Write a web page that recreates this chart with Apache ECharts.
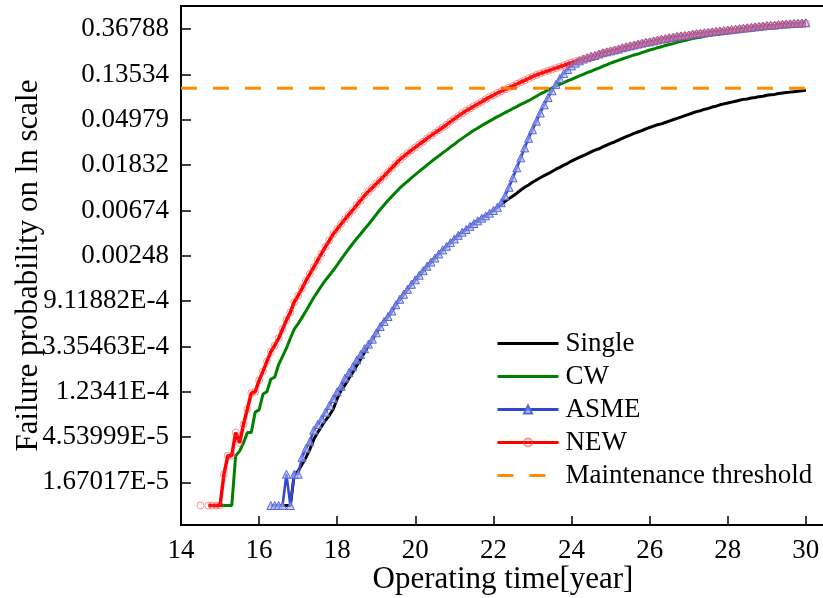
<!DOCTYPE html>
<html>
<head>
<meta charset="utf-8">
<script src="https://cdn.jsdelivr.net/npm/echarts@6/dist/echarts.min.js"></script>
<style>
  html, body { margin: 0; padding: 0; background: #fff; }
  #chart { width: 823px; height: 598px; }
</style>
</head>
<body>
<div id="chart"></div>
<script>
// Failure probability (natural log) vs operating time, sampled every 0.1 year.
// ln(1e-5) = -11.51 is the smallest non-zero probability of the simulation.

const STEP = 0.1;

// NEW method, starting at 14.5 years (null = zero probability, not drawn)
const newStart = 14.5;
const newLn = [
  -11.51, null, -11.51, -11.51, -11.51, -11.51, -10.82, -10.41, -10.41, -9.90,
  -10.13, -9.72, -9.38, -9.03, -9.00, -8.75, -8.55, -8.33, -8.12, -7.98,
  -7.82, -7.62, -7.42, -7.25, -7.02, -6.88, -6.72, -6.55, -6.40, -6.25,
  -6.10, -5.95, -5.80, -5.66, -5.52, -5.41, -5.30, -5.19, -5.09, -4.99,
  -4.88, -4.78, -4.67, -4.58, -4.50, -4.41, -4.33, -4.24, -4.15, -4.06,
  -3.97, -3.88, -3.81, -3.74, -3.67, -3.61, -3.54, -3.48, -3.41, -3.35,
  -3.29, -3.23, -3.17, -3.11, -3.04, -2.98, -2.92, -2.86, -2.80, -2.75,
  -2.70, -2.65, -2.60, -2.55, -2.50, -2.46, -2.41, -2.37, -2.33, -2.29,
  -2.25, -2.21, -2.17, -2.13, -2.09, -2.05, -2.01, -1.98, -1.95, -1.92,
  -1.89, -1.86, -1.83, -1.80, -1.77, -1.74, -1.71, -1.69, -1.66, -1.64,
  -1.61, -1.59, -1.56, -1.53, -1.51, -1.49, -1.47, -1.45, -1.42, -1.40,
  -1.38, -1.36, -1.34, -1.32, -1.30, -1.29, -1.27, -1.25, -1.23, -1.22,
  -1.20, -1.19, -1.17, -1.16, -1.15, -1.14, -1.12, -1.11, -1.10, -1.09,
  -1.08, -1.07, -1.06, -1.05, -1.04, -1.03, -1.02, -1.01, -1.00, -0.99,
  -0.98, -0.97, -0.96, -0.95, -0.94, -0.93, -0.925, -0.92, -0.91, -0.90,
  -0.895, -0.89, -0.885, -0.88, -0.875, -0.87
];

// CW method, starting at 15.0 years
const cwStart = 15.0;
const cwLn = [
  -11.51, -11.51, -11.51, -11.51, -10.41, -10.31, -10.13, -9.90, -9.90, -9.45,
  -9.40, -9.05, -9.00, -8.72, -8.68, -8.40, -8.22, -8.04, -7.82, -7.62,
  -7.50, -7.36, -7.22, -7.07, -6.92, -6.79, -6.66, -6.54, -6.43, -6.32,
  -6.20, -6.08, -5.96, -5.84, -5.73, -5.62, -5.52, -5.41, -5.31, -5.20,
  -5.09, -4.98, -4.88, -4.78, -4.69, -4.60, -4.51, -4.43, -4.36, -4.28,
  -4.21, -4.14, -4.07, -4.00, -3.93, -3.86, -3.80, -3.73, -3.67, -3.60,
  -3.54, -3.47, -3.41, -3.35, -3.29, -3.23, -3.18, -3.13, -3.08, -3.03,
  -2.98, -2.93, -2.89, -2.84, -2.80, -2.75, -2.71, -2.66, -2.62, -2.58,
  -2.53, -2.48, -2.43, -2.39, -2.34, -2.30, -2.26, -2.22, -2.18, -2.14,
  -2.11, -2.07, -2.03, -2.00, -1.96, -1.93, -1.89, -1.86, -1.82, -1.79,
  -1.75, -1.72, -1.69, -1.66, -1.63, -1.60, -1.57, -1.55, -1.52, -1.49,
  -1.46, -1.44, -1.41, -1.39, -1.36, -1.34, -1.32, -1.29, -1.27, -1.25,
  -1.23, -1.21, -1.19, -1.18, -1.16, -1.14, -1.13, -1.11, -1.10, -1.09,
  -1.08, -1.06, -1.05, -1.04, -1.03, -1.01, -1.00, -0.99, -0.98, -0.97,
  -0.96, -0.955, -0.95, -0.94, -0.93, -0.92, -0.91, -0.905, -0.90, -0.89,
  -0.88
];

// Single crack, starting at 16.6 years
const singleStart = 16.6;
const singleLn = [
  -11.51, -11.51, -11.51, -10.82, -10.75, -10.60, -10.45, -10.27, -10.05, -9.90,
  -9.76, -9.63, -9.52, -9.38, -9.15, -8.97, -8.85, -8.70, -8.57, -8.42,
  -8.28, -8.13, -7.98, -7.85, -7.70, -7.56, -7.45, -7.34, -7.22, -7.08,
  -6.96, -6.85, -6.74, -6.63, -6.53, -6.43, -6.33, -6.23, -6.14, -6.05,
  -5.96, -5.87, -5.79, -5.71, -5.63, -5.55, -5.48, -5.42, -5.35, -5.29,
  -5.23, -5.17, -5.12, -5.06, -5.00, -4.93, -4.87, -4.80, -4.74, -4.68,
  -4.62, -4.55, -4.49, -4.44, -4.38, -4.33, -4.28, -4.23, -4.19, -4.14,
  -4.09, -4.05, -4.00, -3.96, -3.91, -3.87, -3.83, -3.79, -3.75, -3.71,
  -3.67, -3.64, -3.60, -3.56, -3.52, -3.49, -3.45, -3.41, -3.37, -3.34,
  -3.30, -3.27, -3.24, -3.20, -3.17, -3.14, -3.11, -3.09, -3.06, -3.03,
  -3.00, -2.97, -2.94, -2.91, -2.88, -2.85, -2.82, -2.80, -2.77, -2.75,
  -2.72, -2.70, -2.67, -2.65, -2.63, -2.61, -2.59, -2.57, -2.55, -2.54,
  -2.52, -2.51, -2.49, -2.48, -2.46, -2.45, -2.44, -2.42, -2.41, -2.40,
  -2.39, -2.38, -2.37, -2.36, -2.35
];

// ASME method, starting at 16.3 years
const asmeStart = 16.3;
const asmeLn = [
  -11.51, -11.51, -11.51, -11.51, -10.82, -11.51, -10.82, -10.82, -10.45, -10.25,
  -10.10, -9.85, -9.72, -9.60, -9.45, -9.30, -9.15, -9.00, -8.88, -8.70,
  -8.58, -8.45, -8.30, -8.18, -8.05, -7.95, -7.84, -7.70, -7.56, -7.45,
  -7.34, -7.22, -7.08, -6.96, -6.85, -6.74, -6.63, -6.53, -6.43, -6.33,
  -6.23, -6.14, -6.05, -5.96, -5.87, -5.79, -5.71, -5.63, -5.55, -5.48,
  -5.42, -5.35, -5.29, -5.23, -5.17, -5.12, -5.06, -5.00, -4.93, -4.83,
  -4.68, -4.49, -4.28, -4.06, -3.84, -3.62, -3.41, -3.22, -3.03, -2.85,
  -2.67, -2.51, -2.36, -2.22, -2.09, -1.98, -1.89, -1.81, -1.75, -1.70,
  -1.66, -1.63, -1.60, -1.58, -1.55, -1.52, -1.50, -1.48, -1.46, -1.44,
  -1.41, -1.39, -1.37, -1.35, -1.33, -1.31, -1.29, -1.28, -1.26, -1.24,
  -1.22, -1.21, -1.19, -1.18, -1.16, -1.15, -1.14, -1.13, -1.11, -1.10,
  -1.09, -1.08, -1.07, -1.06, -1.05, -1.04, -1.03, -1.02, -1.01, -1.00,
  -0.99, -0.98, -0.97, -0.96, -0.95, -0.94, -0.93, -0.92, -0.915, -0.91,
  -0.90, -0.89, -0.885, -0.88, -0.875, -0.87, -0.865, -0.86
];

// Maintenance threshold probability and its time span
const thresholdProb = 0.1;
const thresholdSpan = [14, 30];

// ln-scale tick positions (ln p) and their printed probabilities
const yTickLn = [-1, -2, -3, -4, -5, -6, -7, -8, -9, -10, -11];
const yTickLabels = [
  '0.36788', '0.13534', '0.04979', '0.01832', '0.00674', '0.00248',
  '9.11882E-4', '3.35463E-4', '1.2341E-4', '4.53999E-5', '1.67017E-5'
];

const seriesNames = ['Single', 'CW', 'ASME', 'NEW', 'Maintenance threshold'];
// legend entries whose series have no point markers
const plainLegend = ['Single', 'CW', 'Maintenance threshold'];

function toPairs(start, values) {
  return values.map((v, i) => [Math.round(start * 10 + i * STEP * 10) / 10, v]);
}

const FONT = 'Liberation Serif';
const chart = echarts.init(document.getElementById('chart'), null, { renderer: 'canvas' });

const thresholdLn = Math.log(thresholdProb);

chart.setOption({
  animation: false,
  backgroundColor: '#fff',
  grid: {
    left: 181, top: 6, width: 644, height: 519,
    containLabel: false, outerBoundsMode: 'none',
    show: true, borderColor: '#000', borderWidth: 2
  },
  legend: {
    orient: 'vertical',
    left: 496, top: 330, padding: 0,
    itemWidth: 61, itemHeight: 10, itemGap: 6,
    textStyle: { fontFamily: FONT, fontSize: 27, color: '#000', lineHeight: 27, padding: [0, 0, 0, 2] },
    data: seriesNames.map(n => plainLegend.includes(n)
      ? { name: n, itemStyle: { opacity: 0 }, lineStyle: { width: 3 } }
      : { name: n, lineStyle: { width: 3 } })
  },
  xAxis: {
    type: 'value',
    min: 14, max: 30.49, interval: 2,
    name: 'Operating time[year]',
    nameLocation: 'middle', nameGap: 39, nameMoveOverlap: false,
    nameTextStyle: { fontFamily: FONT, fontSize: 31, color: '#000' },
    axisLine: { show: true, lineStyle: { color: '#000', width: 2 } },
    axisTick: { show: true, inside: true, length: 9, lineStyle: { color: '#000', width: 1.5 } },
    axisLabel: { fontFamily: FONT, fontSize: 27, color: '#000', margin: 12, showMaxLabel: false,
      formatter: v => (Math.abs(v - Math.round(v)) < 1e-6 ? String(v) : '') },
    splitLine: { show: false }
  },
  yAxis: {
    type: 'value',
    min: -11.94, max: -0.49,
    name: 'Failure probability on ln scale',
    nameLocation: 'middle', nameGap: 137, nameRotate: 90, nameMoveOverlap: false,
    nameTextStyle: { fontFamily: FONT, fontSize: 31, color: '#000' },
    axisLine: { show: true, lineStyle: { color: '#000', width: 2 } },
    axisTick: { show: true, inside: true, length: 10, customValues: yTickLn, lineStyle: { color: '#000', width: 1.5 } },
    axisLabel: {
      fontFamily: FONT, fontSize: 27, color: '#000', margin: 12,
      customValues: yTickLn,
      formatter: v => {
        const idx = yTickLn.indexOf(Math.round(v));
        return idx >= 0 ? yTickLabels[idx] : '';
      }
    },
    splitLine: { show: false }
  },
  series: [
    {
      name: 'Single', type: 'line',
      data: toPairs(singleStart, singleLn),
      symbol: 'none',
      lineStyle: { color: '#000000', width: 3 },
      itemStyle: { color: '#000000' }
    },
    {
      name: 'CW', type: 'line',
      data: toPairs(cwStart, cwLn),
      symbol: 'none',
      lineStyle: { color: '#008000', width: 3 },
      itemStyle: { color: '#008000' }
    },
    {
      name: 'ASME', type: 'line',
      data: toPairs(asmeStart, asmeLn),
      symbol: 'triangle', symbolSize: 8, showAllSymbol: true,
      lineStyle: { color: '#3346D0', width: 2.5 },
      itemStyle: { color: 'rgba(170,180,240,0.6)', borderColor: '#5566DD', borderWidth: 1 }
    },
    {
      name: 'NEW', type: 'line',
      data: toPairs(newStart, newLn),
      connectNulls: false,
      symbol: 'circle', symbolSize: 7, showAllSymbol: true,
      lineStyle: { color: '#FF0000', width: 3.5 },
      itemStyle: { color: 'rgba(255,255,255,0)', borderColor: 'rgba(255,60,60,0.55)', borderWidth: 1 }
    },
    {
      name: 'Maintenance threshold', type: 'line',
      data: thresholdSpan.map(t => [t, thresholdLn]),
      symbol: 'none',
      lineStyle: { color: '#FF8C00', width: 3, type: [16, 16] },
      itemStyle: { color: '#FF8C00' }
    }
  ]
});
</script>
</body>
</html>
